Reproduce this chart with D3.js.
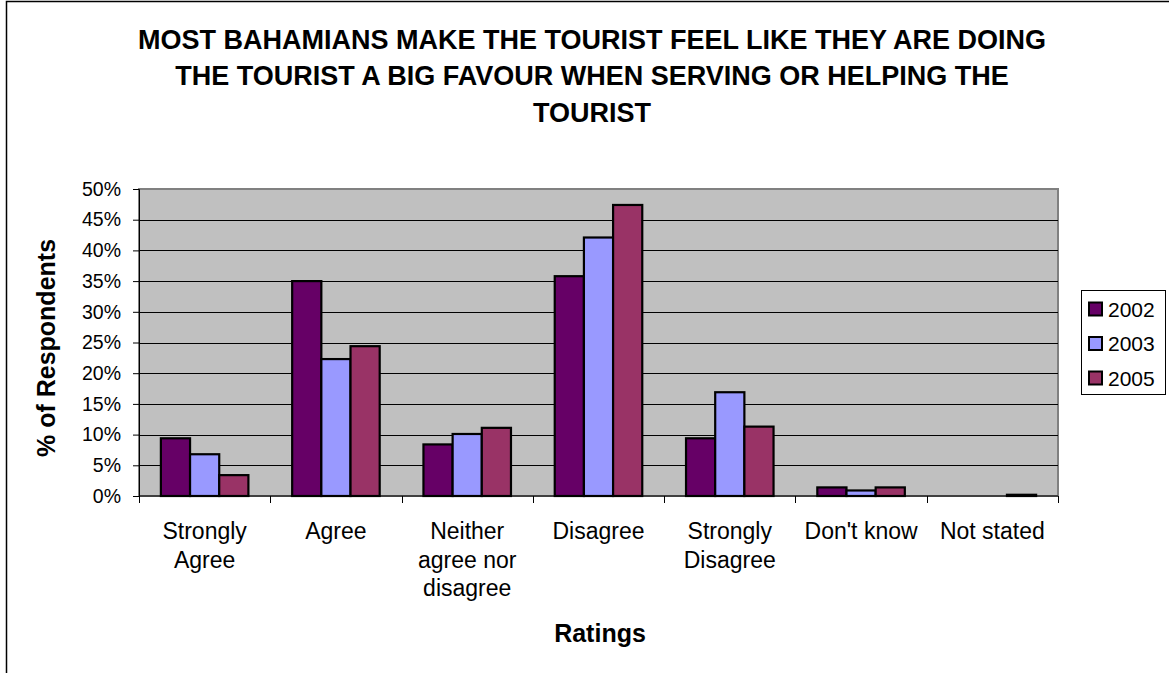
<!DOCTYPE html>
<html>
<head>
<meta charset="utf-8">
<script src="https://cdn.jsdelivr.net/npm/d3@7"></script>
<style>
  html, body { margin: 0; padding: 0; background: #fff; }
  svg { display: block; font-family: "Liberation Sans", Arial, sans-serif; }
</style>
</head>
<body>
<svg id="chart" width="1169" height="673"></svg>
<script>
// Survey ratings by year (% of respondents)
const categories = ["Strongly Agree", "Agree", "Neither agree nor disagree", "Disagree", "Strongly Disagree", "Don't know", "Not stated"];
const categoryLines = [["Strongly", "Agree"], ["Agree"], ["Neither", "agree nor", "disagree"], ["Disagree"], ["Strongly", "Disagree"], ["Don't know"], ["Not stated"]];
const seriesNames = ["2002", "2003", "2005"];
const values2002 = [9.4, 35.0, 8.4, 35.8, 9.4, 1.4, 0];
const values2003 = [6.8, 22.3, 10.1, 42.1, 16.9, 0.9, 0];
const values2005 = [3.4, 24.4, 11.1, 47.4, 11.3, 1.4, 0.2];
const yTicks = [0, 5, 10, 15, 20, 25, 30, 35, 40, 45, 50];
const titleLines = [
  "MOST BAHAMIANS MAKE THE TOURIST FEEL LIKE THEY ARE DOING",
  "THE TOURIST A BIG FAVOUR WHEN SERVING OR HELPING THE",
  "TOURIST"
];
const colors = ["#660066", "#9999FF", "#993366"];

const seriesValues = [values2002, values2003, values2005];
const svg = d3.select("#chart");

// Frame lines around the chart area
svg.append("path")
  .attr("d", "M6.5,673V1.5H1169")
  .attr("fill", "none").attr("stroke", "#000").attr("stroke-width", 1.5);

const plot = { left: 139, right: 1058, top: 189, bottom: 496 };

const x0 = d3.scaleBand().domain(categories).range([plot.left, plot.right]).padding(0);
const step = x0.bandwidth();
const barW = step / 4.5;
const x1 = d3.scaleBand().domain(seriesNames).range([barW * 0.75, step - barW * 0.75]).padding(0);
const y = d3.scaleLinear().domain([0, 50]).range([plot.bottom, plot.top]);

// Plot background
svg.append("rect")
  .attr("x", plot.left).attr("y", plot.top)
  .attr("width", plot.right - plot.left).attr("height", plot.bottom - plot.top)
  .attr("fill", "#C0C0C0").attr("stroke", "#808080").attr("stroke-width", 2);

// Gridlines
svg.append("g").selectAll("line")
  .data(yTicks.filter(t => t > 0 && t < 50))
  .join("line")
  .attr("x1", plot.left).attr("x2", plot.right)
  .attr("y1", d => Math.round(y(d)) + 0.5).attr("y2", d => Math.round(y(d)) + 0.5)
  .attr("stroke", "#000").attr("stroke-width", 1);

// Bars
const groups = svg.append("g").selectAll("g")
  .data(categories)
  .join("g")
  .attr("transform", d => `translate(${x0(d)},0)`);

groups.selectAll("rect")
  .data((c, i) => seriesNames.map((s, j) => ({ s, v: seriesValues[j][i], j })))
  .join("rect")
  .filter(d => d.v > 0)
  .attr("x", d => x1(d.s))
  .attr("y", d => y(d.v))
  .attr("width", x1.bandwidth())
  .attr("height", d => y(0) - y(d.v))
  .attr("fill", d => colors[d.j])
  .attr("stroke", "#000").attr("stroke-width", 2.2);

// Y axis
const yAxis = svg.append("g")
  .attr("transform", `translate(${plot.left},0)`)
  .call(d3.axisLeft(y).tickValues(yTicks).tickFormat(d => d + "%").tickSize(6).tickPadding(12));
yAxis.select(".domain").attr("stroke", "#000").attr("stroke-width", 1);
yAxis.selectAll(".tick line").attr("stroke", "#000");
yAxis.selectAll("text")
  .attr("font-size", 19.5).attr("fill", "#000")
  .style("font-family", "'Liberation Sans', Arial, sans-serif");

// X axis with ticks at category boundaries
const xAxisG = svg.append("g").attr("transform", `translate(0,${plot.bottom})`);
xAxisG.append("line")
  .attr("x1", plot.left).attr("x2", plot.right)
  .attr("y1", 0).attr("y2", 0)
  .attr("stroke", "#000").attr("stroke-width", 1.2);
xAxisG.selectAll("line.tk")
  .data(categories.map(c => x0(c)).concat([plot.right]))
  .join("line").attr("class", "tk")
  .attr("x1", d => Math.round(d) + 0.5).attr("x2", d => Math.round(d) + 0.5)
  .attr("y1", 0).attr("y2", 7)
  .attr("stroke", "#000");

// Category labels
const labels = svg.append("g").selectAll("text")
  .data(categories)
  .join("text")
  .attr("x", d => x0(d) + step / 2)
  .attr("y", 539)
  .attr("text-anchor", "middle")
  .attr("font-size", 23)
  .attr("fill", "#000");
labels.each(function (d, i) {
  const t = d3.select(this);
  categoryLines[i].forEach((line, k) => {
    t.append("tspan")
      .attr("x", x0(d) + step / 2)
      .attr("y", 539 + k * 28.5)
      .text(line);
  });
});

// Title
svg.append("g").selectAll("text")
  .data(titleLines)
  .join("text")
  .attr("x", 592)
  .attr("y", (d, i) => 49 + i * 36.3)
  .attr("text-anchor", "middle")
  .attr("font-size", 27)
  .attr("font-weight", "bold")
  .attr("fill", "#000")
  .text(d => d);

// Axis titles
svg.append("text")
  .attr("transform", "translate(55,348) rotate(-90)")
  .attr("text-anchor", "middle")
  .attr("font-size", 25).attr("font-weight", "bold")
  .text("% of Respondents");

svg.append("text")
  .attr("x", 600).attr("y", 642)
  .attr("text-anchor", "middle")
  .attr("font-size", 25).attr("font-weight", "bold")
  .text("Ratings");

// Legend
const legend = svg.append("g");
legend.append("rect")
  .attr("x", 1081.5).attr("y", 290.5)
  .attr("width", 84).attr("height", 104)
  .attr("fill", "#fff").attr("stroke", "#000").attr("stroke-width", 1);
const rowY = d3.scalePoint().domain(seriesNames).range([309, 378]);
const items = legend.selectAll("g.item")
  .data(seriesNames)
  .join("g").attr("class", "item")
  .attr("transform", d => `translate(0,${rowY(d)})`);
items.append("rect")
  .attr("x", 1089).attr("y", -6.5)
  .attr("width", 13).attr("height", 13)
  .attr("fill", (d, i) => colors[i])
  .attr("stroke", "#000").attr("stroke-width", 2);
items.append("text")
  .attr("x", 1108).attr("y", 7.5)
  .attr("font-size", 21)
  .text(d => d);
</script>
</body>
</html>
